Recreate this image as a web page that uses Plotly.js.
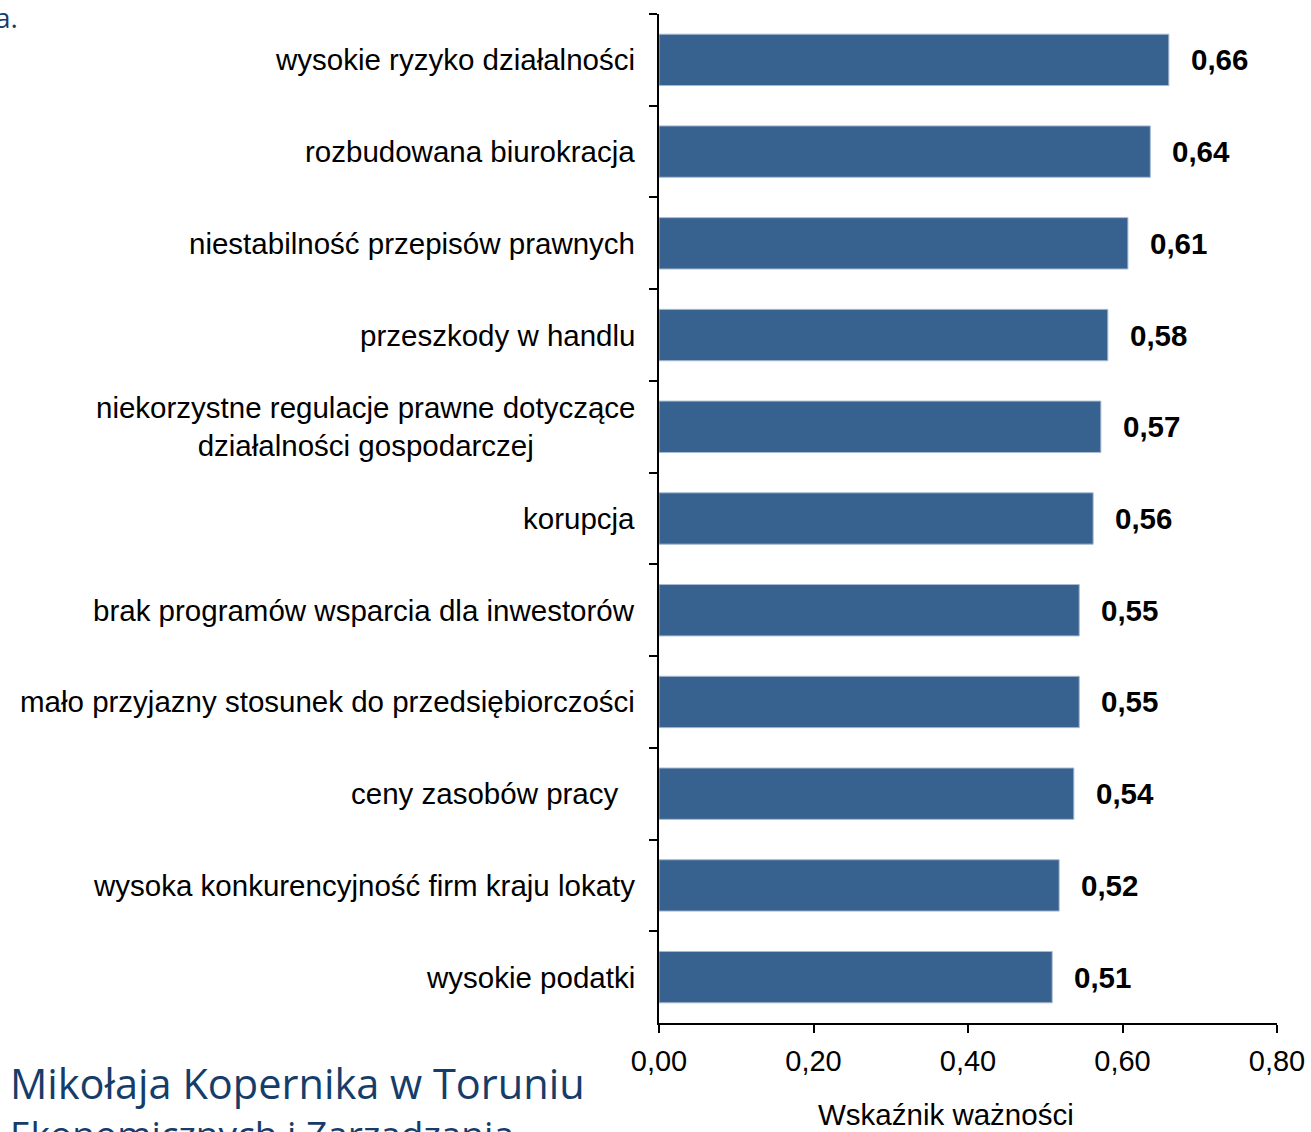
<!DOCTYPE html>
<html>
<head>
<meta charset="utf-8">
<script src="https://cdn.plot.ly/plotly-3.0.1.min.js"></script>
<style>html,body{margin:0;padding:0;background:#fff;}#chart{width:1311px;height:1132px;}</style>
</head>
<body>
<div id="chart"></div>
<script>
// Categories, top to bottom
const categories = [
  "wysokie ryzyko działalności",
  "rozbudowana biurokracja",
  "niestabilność przepisów prawnych",
  "przeszkody w handlu",
  "niekorzystne regulacje prawne dotyczące<br>działalności gospodarczej",
  "korupcja",
  "brak programów wsparcia dla inwestorów",
  "mało przyjazny stosunek do przedsiębiorczości",
  "ceny zasobów pracy\u00A0\u00A0",
  "wysoka konkurencyjność firm kraju lokaty",
  "wysokie podatki"
];
// Bar lengths (Wskaźnik ważności)
const values = [0.660, 0.636, 0.607, 0.581, 0.572, 0.562, 0.544, 0.544, 0.537, 0.518, 0.509];
// Printed value labels
const valueLabels = ["0,66", "0,64", "0,61", "0,58", "0,57", "0,56", "0,55", "0,55", "0,54", "0,52", "0,51"];
const xTickVals = [0, 0.2, 0.4, 0.6, 0.8];
const xTickText = ["0,00", "0,20", "0,40", "0,60", "0,80"];
const axisTitle = "Wskaźnik ważności";
const footerLine1 = "Mikołaja Kopernika w Toruniu";
const footerLine2 = "Ekonomicznych i Zarządzania";
const cornerText = "a.";

const font = "Liberation Sans, Arial, sans-serif";
const blue = "#37618F";
const navy = "#163D69";

const W = 1311, H = 1132, L = 659, R = 34, T = 14, B = 109;
const pw = W - L - R, ph = H - T - B;
function px2paperX(px) { return (px - L) / pw; }
function px2paperY(py) { return (H - B - py) / ph; }

const annotations = [];
categories.forEach((c, i) => {
  annotations.push({
    x: 0, xref: "paper", y: c, yref: "y",
    text: c, showarrow: false, xanchor: "right", yanchor: "middle",
    align: "center", xshift: -22,
    font: {family: font, size: 29.5, color: "#000"}
  });
  annotations.push({
    x: values[i], xref: "x", y: c, yref: "y",
    text: "<b>" + valueLabels[i] + "</b>", showarrow: false,
    xanchor: "left", yanchor: "middle", xshift: 20,
    font: {family: font, size: 29.5, color: "#000"}
  });
});
annotations.push({
  x: px2paperX(946), xref: "paper", y: px2paperY(1114), yref: "paper", text: axisTitle, showarrow: false,
  font: {family: font, size: 29.5, color: "#000"}, xanchor: "center", yanchor: "middle"
});
annotations.push({
  x: px2paperX(8), xref: "paper", y: px2paperY(1083), yref: "paper", text: footerLine1, showarrow: false,
  font: {family: "Open Sans, sans-serif", size: 41.5, color: navy}, xanchor: "left", yanchor: "middle"
});
annotations.push({
  x: px2paperX(8), xref: "paper", y: px2paperY(1133), yref: "paper", text: footerLine2, showarrow: false,
  font: {family: "Open Sans, sans-serif", size: 37, color: navy}, xanchor: "left", yanchor: "middle"
});
annotations.push({
  x: px2paperX(-7), xref: "paper", y: px2paperY(17), yref: "paper", text: cornerText, showarrow: false,
  font: {family: "Open Sans, sans-serif", size: 28, color: navy}, xanchor: "left", yanchor: "middle"
});

const data = [{
  type: "bar", orientation: "h",
  y: categories, x: values,
  marker: {color: blue, line: {color: "#A8BAD0", width: 1}},
  hoverinfo: "x+y"
}];

const layout = {
  width: W, height: H,
  margin: {l: L, r: R, t: T, b: B, pad: 0},
  paper_bgcolor: "#fff", plot_bgcolor: "#fff",
  showlegend: false,
  bargap: 0.44,
  font: {family: font, size: 29, color: "#000"},
  xaxis: {
    range: [0, 0.8], tickvals: xTickVals, ticktext: xTickText,
    showgrid: false, zeroline: false,
    showline: true, linecolor: "#000", linewidth: 2,
    ticks: "outside", ticklen: 8, tickwidth: 2, tickcolor: "#000",
    ticklabelstandoff: 3,
    tickfont: {family: font, size: 29, color: "#000"},
    automargin: false, fixedrange: true
  },
  yaxis: {
    type: "category", range: [10.5, -0.5],
    showticklabels: false, showgrid: false, zeroline: false,
    showline: true, linecolor: "#000", linewidth: 2,
    ticks: "outside", tickson: "boundaries", ticklen: 8, tickwidth: 2, tickcolor: "#000",
    automargin: false, fixedrange: true
  },
  annotations: annotations
};

Plotly.newPlot("chart", data, layout, {displayModeBar: false, staticPlot: true});
</script>
</body>
</html>
